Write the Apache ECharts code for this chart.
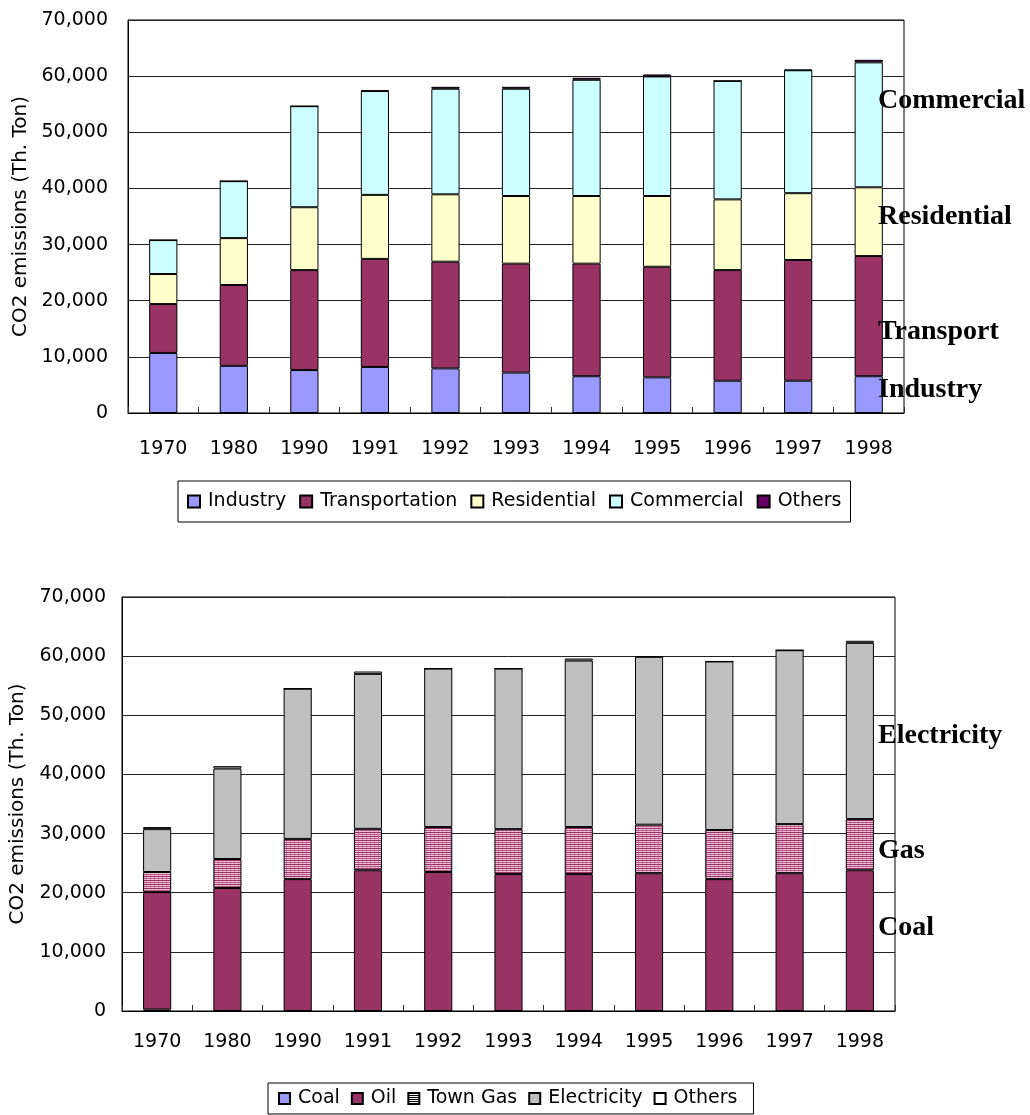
<!DOCTYPE html>
<html>
<head>
<meta charset="utf-8">
<script src="https://cdn.jsdelivr.net/npm/echarts@6/dist/echarts.min.js"></script>
<style>
  html, body { margin: 0; padding: 0; background: #fff; }
  #chart { width: 1030px; height: 1115px; }
</style>
</head>
<body>
<div id="chart"></div>
<script>
// Years on both category axes
const years = ['1970', '1980', '1990', '1991', '1992', '1993', '1994', '1995', '1996', '1997', '1998'];

// CO2 emissions by sector (Th. Ton)
const industry       = [10700,  8400,  7650,  8200,  7950,  7200,  6550,  6350,  5750,  5750,  6550];
const transportation = [ 8700, 14400, 17800, 19250, 19000, 19400, 20050, 19700, 19700, 21500, 21400];
const residential    = [ 5350,  8350, 11200, 11400, 12000, 12050, 12050, 12600, 12600, 11900, 12250];
const commercial     = [ 6050, 10150, 18000, 18500, 18800, 19100, 20700, 21300, 21100, 21900, 22250];
const sectorOthers   = [    0,     0,     0,   100,   350,   350,   360,   350,     0,    80,   460];

// CO2 emissions by fuel (Th. Ton)
const coal        = [  250,     0,     0,     0,     0,     0,     0,     0,     0,     0,     0];
const oil         = [19850, 20800, 22300, 23800, 23500, 23150, 23150, 23300, 22300, 23300, 23800];
const townGas     = [ 3400,  4900,  6800,  7000,  7600,  7600,  7950,  8200,  8300,  8300,  8650];
const electricity = [ 7250, 15300, 25400, 26200, 26800, 27150, 28150, 28400, 28500, 29400, 29800];
const fuelOthers  = [  350,   400,     0,   400,     0,     0,   350,     0,     0,     0,   350];

// Value axis range shared by both panels
const yMin = 0, yMax = 70000, yStep = 10000;

// Hatched fill for Town Gas bars
function makePattern(bg, line, w, h) {
  const c = document.createElement('canvas');
  c.width = w; c.height = h;
  const ctx = c.getContext('2d');
  ctx.fillStyle = bg; ctx.fillRect(0, 0, w, h);
  ctx.fillStyle = line;
  for (let y = 1; y < h; y += 2) ctx.fillRect(0, y, w, 1);
  return c;
}
const gasCanvas = (function () {
  const c = document.createElement('canvas');
  c.width = 4; c.height = 4;
  const ctx = c.getContext('2d');
  ctx.fillStyle = '#bb5588'; ctx.fillRect(0, 0, 4, 4);
  ctx.fillStyle = '#eec6da'; ctx.fillRect(0, 1, 4, 1); ctx.fillRect(0, 3, 4, 1);
  ctx.fillStyle = '#993366'; ctx.fillRect(0, 0, 4, 1);
  ctx.fillStyle = '#d98fb3'; ctx.fillRect(2, 1, 1, 1); ctx.fillRect(2, 3, 1, 1);
  return c;
})();
const gasFill = { image: gasCanvas, repeat: 'repeat' };
const gasLegendFill = { image: makePattern('#000000', '#ffffff', 4, 4), repeat: 'repeat' };

const sans = 'DejaVu Sans';
const axisText = { color: '#000', fontFamily: sans, fontSize: 19 };

function valueAxis(gridIndex, gap, labelMargin) {
  return {
    type: 'value', gridIndex: gridIndex,
    min: yMin, max: yMax, interval: yStep,
    name: 'CO2 emissions (Th. Ton)',
    nameLocation: 'middle', nameGap: gap,
    nameTextStyle: { color: '#000', fontFamily: sans, fontSize: 20 },
    axisLine: { show: true, lineStyle: { color: '#000', width: 1 } },
    axisTick: { show: false },
    splitLine: { lineStyle: { color: '#222', width: 1 } },
    axisLabel: Object.assign({ margin: labelMargin, formatter: v => v.toLocaleString('en-US') }, axisText)
  };
}
function categoryAxis(gridIndex, labelMargin) {
  return {
    type: 'category', gridIndex: gridIndex, data: years,
    axisLine: { lineStyle: { color: '#000', width: 1 } },
    axisTick: { show: true, inside: true, length: 6, alignWithLabel: false, lineStyle: { color: '#333' } },
    axisLabel: Object.assign({ margin: labelMargin, interval: 0 }, axisText)
  };
}
function bar(name, data, color, idx, stack) {
  return {
    type: 'bar', name: name, data: data, stack: stack,
    xAxisIndex: idx, yAxisIndex: idx,
    barWidth: '40%',
    itemStyle: { color: color, borderColor: '#000', borderWidth: 1 },
    emphasis: { disabled: true }
  };
}
function note(text, x, y) {
  return {
    type: 'text', x: x, y: y, z: 100,
    style: { text: text, fill: '#000', font: 'bold 28px "Liberation Serif"', verticalAlign: 'middle' }
  };
}

const chart = echarts.init(document.getElementById('chart'), null, { renderer: 'canvas' });
chart.setOption({
  animation: false,
  backgroundColor: '#fff',
  grid: [
    { left: 128, top: 20, width: 776, height: 393, show: true, borderColor: '#000', borderWidth: 1, backgroundColor: '#fff' },
    { left: 122, top: 597, width: 773, height: 414, show: true, borderColor: '#000', borderWidth: 1, backgroundColor: '#fff' }
  ],
  xAxis: [categoryAxis(0, 27), categoryAxis(1, 22)],
  yAxis: [valueAxis(0, 94, 20), valueAxis(1, 94, 16)],
  legend: [
    {
      left: 178, top: 481,
      padding: [11, 9], itemGap: 13, itemWidth: 12, itemHeight: 12,
      borderColor: '#000', borderWidth: 1, icon: 'rect',
      textStyle: { color: '#000', fontFamily: sans, fontSize: 19, padding: [0, 0, 0, 3] },
      data: ['Industry', 'Transportation', 'Residential', 'Commercial', 'Others'],
      seriesIndex: [0, 1, 2, 3, 4]
    },
    {
      left: 268, top: 1083,
      padding: [6, 10], itemGap: 11, itemWidth: 11, itemHeight: 11,
      borderColor: '#000', borderWidth: 1, icon: 'rect',
      textStyle: { color: '#000', fontFamily: sans, fontSize: 19, padding: [0, 0, 0, 3] },
      data: ['Coal', 'Oil', { name: 'Town Gas', itemStyle: { color: gasLegendFill } }, 'Electricity', 'Others ']
    }
  ],
  series: [
    bar('Industry', industry, '#9999ff', 0, 'sector'),
    bar('Transportation', transportation, '#993366', 0, 'sector'),
    bar('Residential', residential, '#ffffcc', 0, 'sector'),
    bar('Commercial', commercial, '#ccffff', 0, 'sector'),
    bar('Others', sectorOthers, '#660066', 0, 'sector'),
    bar('Coal', coal, '#9999ff', 1, 'fuel'),
    bar('Oil', oil, '#993366', 1, 'fuel'),
    bar('Town Gas', townGas, gasFill, 1, 'fuel'),
    bar('Electricity', electricity, '#c0c0c0', 1, 'fuel'),
    bar('Others ', fuelOthers, '#ffffff', 1, 'fuel')
  ],
  graphic: [
    note('Commercial', 878, 101),
    note('Residential', 878, 217),
    note('Transport', 878, 332),
    note('Industry', 878, 390),
    note('Electricity', 878, 736),
    note('Gas', 878, 851),
    note('Coal', 878, 928)
  ]
});
</script>
</body>
</html>
